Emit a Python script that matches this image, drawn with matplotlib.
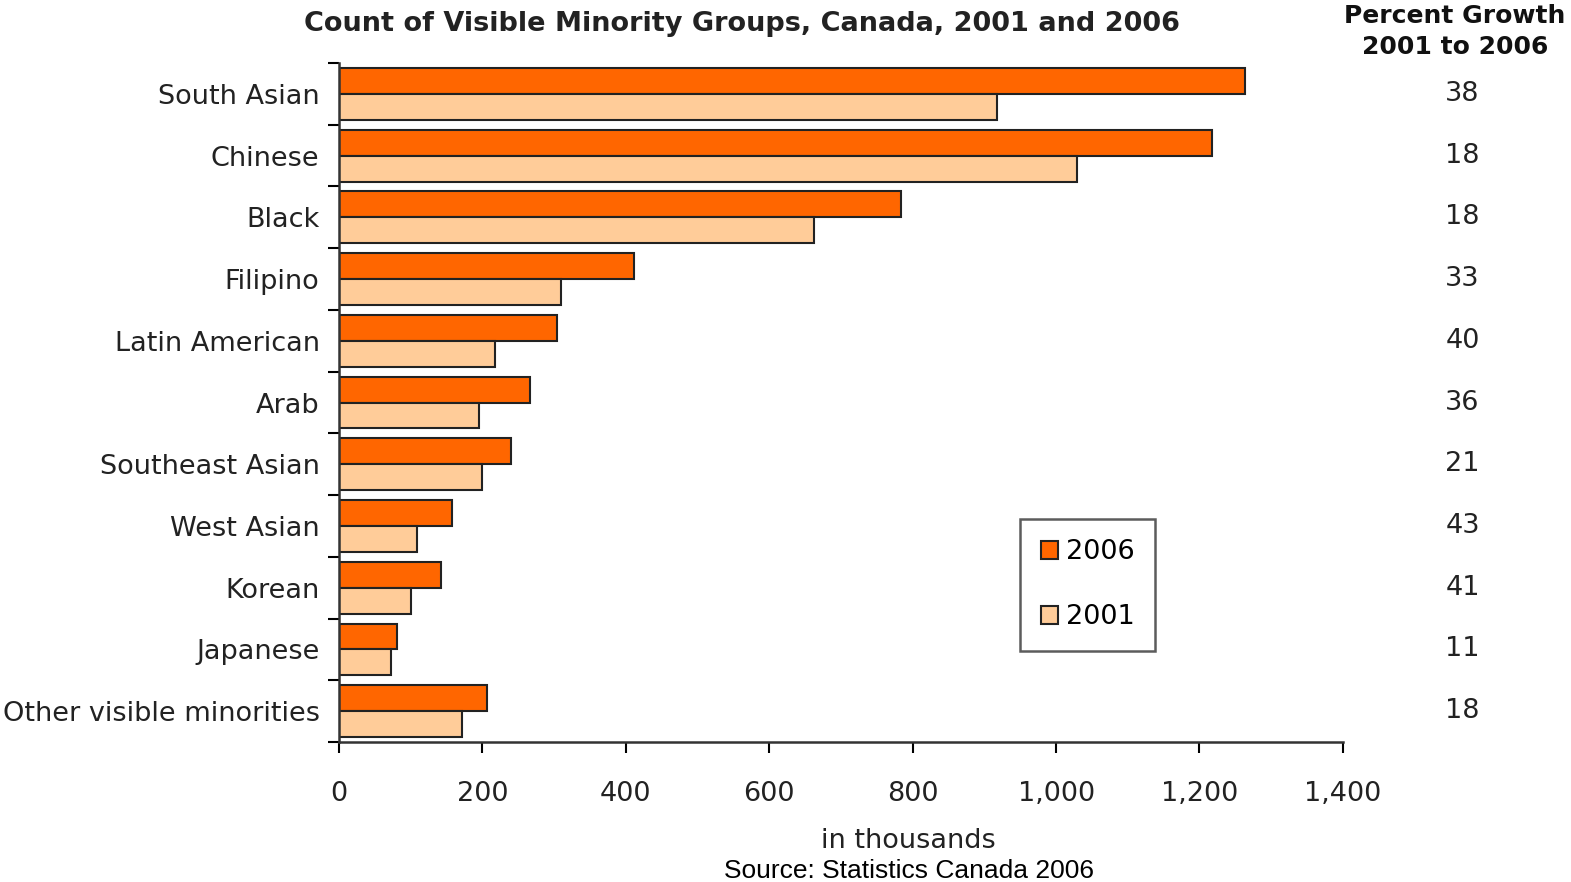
import numpy as np
import matplotlib
matplotlib.use("Agg")
import matplotlib.pyplot as plt
from matplotlib.patches import Patch
from matplotlib.transforms import blended_transform_factory

groups = ["South Asian", "Chinese", "Black", "Filipino", "Latin American", "Arab",
          "Southeast Asian", "West Asian", "Korean", "Japanese", "Other visible minorities"]
count_2006 = [1263, 1217, 784, 411, 304, 266, 240, 157, 142, 81, 206]
count_2001 = [917, 1029, 662, 309, 217, 195, 199, 109, 101, 73, 171]
growth_pct = [38, 18, 18, 33, 40, 36, 21, 43, 41, 11, 18]
xticks = [0, 200, 400, 600, 800, 1000, 1200, 1400]

C2006 = "#FF6600"
C2001 = "#FFCC99"
FS = 19.5

plt.rcParams["font.family"] = "DejaVu Sans"

fig = plt.figure(figsize=(15.71, 8.82), dpi=100)
ax = fig.add_axes([0.2158, 0.1587, 0.639, 0.7699])

n = len(groups)
y = np.arange(n)
h = 0.42
ax.barh(y + 0.29, count_2006, height=h, color=C2006, edgecolor="#222222", linewidth=1.5)
ax.barh(y + 0.71, count_2001, height=h, color=C2001, edgecolor="#222222", linewidth=1.5)

ax.set_ylim(n, 0)
ax.set_xlim(0, 1400)

# category boundaries get the ticks, names sit in between
ax.set_yticks(np.arange(n + 1))
ax.set_yticklabels([])
ax.set_yticks(y + 0.5, minor=True)
ax.set_yticklabels(groups, minor=True, fontsize=FS, color="#222222")
ax.tick_params(axis="y", which="minor", length=0, pad=14)
ax.tick_params(axis="y", which="major", length=8, width=1.5, direction="out")

ax.set_xticks(xticks)
ax.set_xticklabels([f"{v:,}" for v in xticks], fontsize=FS, color="#222222")
ax.tick_params(axis="x", length=8, width=1.5, direction="out", pad=20)

for s in ["top", "right"]:
    ax.spines[s].set_visible(False)
for s in ["left", "bottom"]:
    ax.spines[s].set_linewidth(1.8)
    ax.spines[s].set_color("#333333")

fig.text(0.578, 0.047, "in thousands", ha="center", va="center",
         fontsize=FS, color="#222222")

fig.text(0.472, 0.973, "Count of Visible Minority Groups, Canada, 2001 and 2006",
         ha="center", va="center", fontsize=FS, fontweight="bold", color="#222222")

# growth column on the right
fig.text(0.926, 0.964, "Percent Growth\n2001 to 2006", ha="center", va="center",
         fontsize=18, fontweight="bold", color="#111111", linespacing=1.35)
tr = blended_transform_factory(fig.transFigure, ax.transData)
for yi, g in zip(y, growth_pct):
    ax.text(0.931, yi + 0.5, str(g), transform=tr, ha="center", va="center",
            fontsize=FS, color="#222222", clip_on=False)

handles = [Patch(facecolor=C2006, edgecolor="#222222", linewidth=1.5, label="2006"),
           Patch(facecolor=C2001, edgecolor="#222222", linewidth=1.5, label="2001")]
leg = fig.legend(handles=handles, loc="center", bbox_to_anchor=(0.6925, 0.337),
                 fontsize=FS, frameon=True, fancybox=False, handlelength=0.65,
                 handleheight=0.65, handletextpad=0.3, labelspacing=1.45,
                 borderpad=0.75, borderaxespad=0)
leg.get_frame().set_edgecolor("#333333")
leg.get_frame().set_linewidth(1.8)

fig.text(0.5785, 0.012, "Source: Statistics Canada 2006", ha="center", va="center",
         fontsize=19, family="Liberation Sans", color="black")

fig.savefig("out.png", dpi=100)
